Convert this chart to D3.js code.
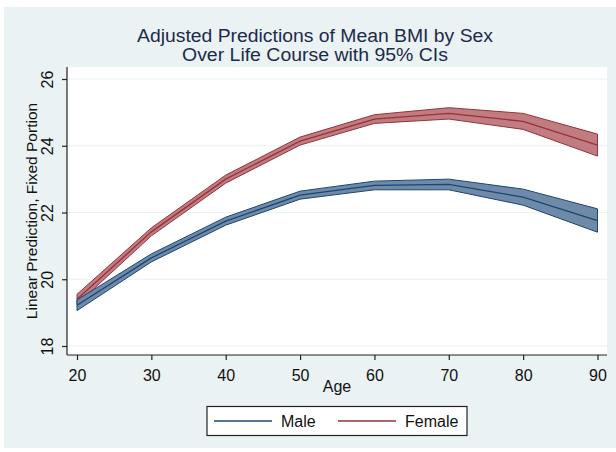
<!DOCTYPE html>
<html>
<head>
<meta charset="utf-8">
<script src="https://cdn.jsdelivr.net/npm/d3@7"></script>
<style>
  body { margin: 0; background: #fff; }
  svg { display: block; font-family: Arial, 'Liberation Sans', sans-serif; }
</style>
</head>
<body>
<div id="chart"></div>
<script>
// Ages where margins were evaluated
const ages = [20, 30, 40, 50, 60, 70, 80, 90];

// Predicted mean BMI with 95% CI, by sex
const maleMean   = [19.22, 20.64, 21.74, 22.52, 22.81, 22.84, 22.46, 21.76];
const maleLo     = [19.06, 20.52, 21.62, 22.40, 22.68, 22.68, 22.22, 21.41];
const maleHi     = [19.38, 20.76, 21.86, 22.64, 22.94, 23.00, 22.70, 22.11];
const femaleMean = [19.40, 21.42, 23.00, 24.14, 24.80, 24.97, 24.73, 24.02];
const femaleLo   = [19.25, 21.30, 22.88, 24.02, 24.67, 24.80, 24.49, 23.69];
const femaleHi   = [19.55, 21.54, 23.12, 24.26, 24.93, 25.14, 24.97, 24.35];

const xTicks = [20, 30, 40, 50, 60, 70, 80, 90];
const yTicks = [18, 20, 22, 24, 26];
const seriesNames = ['Male', 'Female'];

const W = 616, H = 452;
const plot = { left: 67, right: 607, top: 67, bottom: 355 };

const svg = d3.select('#chart').append('svg')
  .attr('width', W)
  .attr('height', H);

// graph region background
svg.append('rect')
  .attr('x', 4).attr('y', 7)
  .attr('width', W - 4).attr('height', 441)
  .attr('fill', '#eaf2f3');

// plot region
svg.append('rect')
  .attr('x', plot.left).attr('y', plot.top)
  .attr('width', plot.right - plot.left).attr('height', plot.bottom - plot.top)
  .attr('fill', '#fff');

const x = d3.scaleLinear().domain([20, 90]).range([77, 597.5]);
const y = d3.scaleLinear().domain([18, 26]).range([346, 79]);

// gridlines
svg.append('g')
  .selectAll('line')
  .data(yTicks)
  .join('line')
  .attr('x1', plot.left).attr('x2', plot.right)
  .attr('y1', d => y(d)).attr('y2', d => y(d))
  .attr('stroke', '#eaf2f3')
  .attr('stroke-width', 1.2);

// build series rows
const series = [
  { name: 'Female', mean: femaleMean, lo: femaleLo, hi: femaleHi, line: '#90353b', fill: '#c27b80' },
  { name: 'Male', mean: maleMean, lo: maleLo, hi: maleHi, line: '#1a476f', fill: '#6f8aa8' }
].map(s => ({
  ...s,
  rows: ages.map((a, i) => ({ age: a, mean: s.mean[i], lo: s.lo[i], hi: s.hi[i] }))
}));

const area = d3.area()
  .x(d => x(d.age))
  .y0(d => y(d.lo))
  .y1(d => y(d.hi));

const meanLine = d3.line()
  .x(d => x(d.age))
  .y(d => y(d.mean));

const bands = svg.append('g')
  .selectAll('g')
  .data(series)
  .join('g');

bands.append('path')
  .attr('d', d => area(d.rows) + 'Z')
  .attr('fill', d => d.fill)
  .attr('stroke', d => d.line)
  .attr('stroke-width', 1);

bands.append('path')
  .attr('d', d => meanLine(d.rows))
  .attr('fill', 'none')
  .attr('stroke', d => d.line)
  .attr('stroke-width', 1.3);

// axes
const yAxis = svg.append('g')
  .attr('transform', `translate(${plot.left},0)`)
  .call(d3.axisLeft(y).tickValues(yTicks).tickSize(5).tickSizeOuter(0).tickFormat(d3.format('d')));
yAxis.select('.domain').attr('d', `M0,${plot.top}V${plot.bottom}`).attr('stroke', '#222').attr('stroke-width', 1.2);
yAxis.selectAll('.tick line').attr('stroke', '#222').attr('stroke-width', 1.2);
yAxis.selectAll('.tick text')
  .attr('x', null).attr('dy', null)
  .attr('transform', 'translate(-14,0) rotate(-90)')
  .attr('text-anchor', 'middle')
  .attr('fill', '#111')
  .style('font-size', '16px')
  .style('font-family', 'Arial, Liberation Sans, sans-serif');

const xAxis = svg.append('g')
  .attr('transform', `translate(0,${plot.bottom})`)
  .call(d3.axisBottom(x).tickValues(xTicks).tickSize(5).tickSizeOuter(0).tickFormat(d3.format('d')));
xAxis.select('.domain').attr('d', `M${plot.left},0H${plot.right}`).attr('stroke', '#222').attr('stroke-width', 1.2);
xAxis.selectAll('.tick line').attr('stroke', '#222').attr('stroke-width', 1.2);
xAxis.selectAll('.tick text')
  .attr('y', 26).attr('dy', null)
  .attr('fill', '#111')
  .style('font-size', '16px')
  .style('font-family', 'Arial, Liberation Sans, sans-serif');

// axis titles
svg.append('text')
  .attr('x', 337).attr('y', 392)
  .attr('text-anchor', 'middle')
  .attr('fill', '#111')
  .style('font-size', '16px')
  .text('Age');

svg.append('text')
  .attr('transform', `translate(37,${(plot.top + plot.bottom) / 2}) rotate(-90)`)
  .attr('text-anchor', 'middle')
  .attr('fill', '#111')
  .style('font-size', '15.5px')
  .text('Linear Prediction, Fixed Portion');

// title
const titleLines = ['Adjusted Predictions of Mean BMI by Sex', 'Over Life Course with 95% CIs'];
const titleWidths = [356, 266];
svg.append('g')
  .selectAll('text')
  .data(titleLines)
  .join('text')
  .attr('x', 315)
  .attr('y', (d, i) => 42 + i * 19)
  .attr('text-anchor', 'middle')
  .attr('textLength', (d, i) => titleWidths[i])
  .attr('lengthAdjust', 'spacingAndGlyphs')
  .attr('fill', '#1e2a4a')
  .style('font-size', '18px')
  .text(d => d);

// legend
const legend = svg.append('g');
legend.append('rect')
  .attr('x', 207).attr('y', 406.5)
  .attr('width', 260).attr('height', 29)
  .attr('fill', '#fff')
  .attr('stroke', '#222')
  .attr('stroke-width', 1.2);

const legendX = d3.scalePoint().domain(seriesNames).range([214, 338]);
const legendColor = d3.scaleOrdinal().domain(seriesNames).range(['#1a476f', '#90353b']);

const items = legend.selectAll('g.item')
  .data(seriesNames)
  .join('g')
  .attr('class', 'item')
  .attr('transform', d => `translate(${legendX(d)},421)`);

items.append('line')
  .attr('x1', 0).attr('x2', 58)
  .attr('stroke', d => legendColor(d))
  .attr('stroke-width', 1.3);

items.append('text')
  .attr('x', 67).attr('y', 6)
  .attr('fill', '#111')
  .style('font-size', '16px')
  .text(d => d);
</script>
</body>
</html>
